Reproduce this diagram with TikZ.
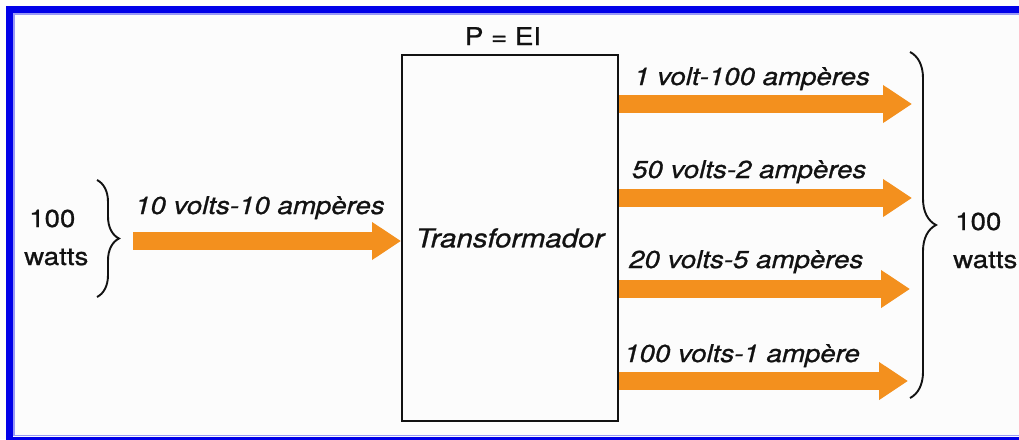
\documentclass[tikz,border=0pt]{standalone}
\usepackage{fontspec}
\setmainfont{TeX Gyre Heros}[FakeStretch=1.13, FakeBold=0.9]
\usetikzlibrary{arrows.meta,decorations.pathreplacing}
\definecolor{flow}{RGB}{243,144,30}
\definecolor{frameblue}{RGB}{0,0,232}
\definecolor{ink}{RGB}{18,18,18}
\begin{document}
\begin{tikzpicture}[x=1pt,y=-1pt,
  txt/.style={font=\fontsize{24.5}{29}\selectfont, inner sep=0pt, text=ink},
  lbl/.style={font=\fontsize{24.5}{29}\selectfont\itshape, inner sep=0pt, text=ink, anchor=base west},
  flowarrow/.style={draw=flow, line width=18pt, -{Triangle[length=29pt,width=36pt]}},
  bracestyle/.style={draw=ink, line width=1.9pt, decorate, decoration={brace, amplitude=#1}},
]
\useasboundingbox (0,0) rectangle (1019,439);
\clip (0,0) rectangle (1019,439);
\fill[white!99!black] (0,0) rectangle (1019,439);

% page frame
\draw[frameblue, line width=7pt] (9.5,9.5) rectangle (1040,440);
\draw[frameblue!40, line width=1.5pt] (13.75,13.75) rectangle (1040,435.25);

% transformer block
\node[draw=ink, line width=2pt, minimum width=216pt, minimum height=366pt,
      inner sep=0pt, font=\fontsize{26}{30}\selectfont\itshape, text=ink]
      (tr) at (510,238) {Transformador};
\node[txt, anchor=base] (law) at (503,45) {P = EI};

% input side
\coordinate (inL) at (133,241);
\draw[flowarrow] (inL) -- (tr.west |- inL);
\node[lbl] (inlabel) at (135,214) {10 volts-10 ampères};
\coordinate (lbtop) at (97,180);
\coordinate (lbbot) at (97,297);
\draw[bracestyle=22pt] (lbtop) -- (lbbot);
\node[txt, anchor=base west] (inP) at (29,227) {100};
\node[txt, anchor=base west] (inW) at (24,265) {watts};

% output side
\coordinate (o1) at (912,104);
\coordinate (o2) at (912,198);
\coordinate (o3) at (910,289);
\coordinate (o4) at (908,381);
\draw[flowarrow] (tr.east |- o1) -- (o1);
\draw[flowarrow] (tr.east |- o2) -- (o2);
\draw[flowarrow] (tr.east |- o3) -- (o3);
\draw[flowarrow] (tr.east |- o4) -- (o4);
\node[lbl] (l1) at (634,85) {1 volt-100 ampères};
\node[lbl] (l2) at (632,178) {50 volts-2 ampères};
\node[lbl] (l3) at (629,268) {20 volts-5 ampères};
\node[lbl] (l4) at (624,362) {100 volts-1 ampère};
\coordinate (rbtop) at (910,52);
\coordinate (rbbot) at (910,398);
\draw[bracestyle=26pt] (rbtop) -- (rbbot);
\node[txt, anchor=base west] (outP) at (955,230) {100};
\node[txt, anchor=base west] (outW) at (953,268) {watts};
\end{tikzpicture}
\end{document}
